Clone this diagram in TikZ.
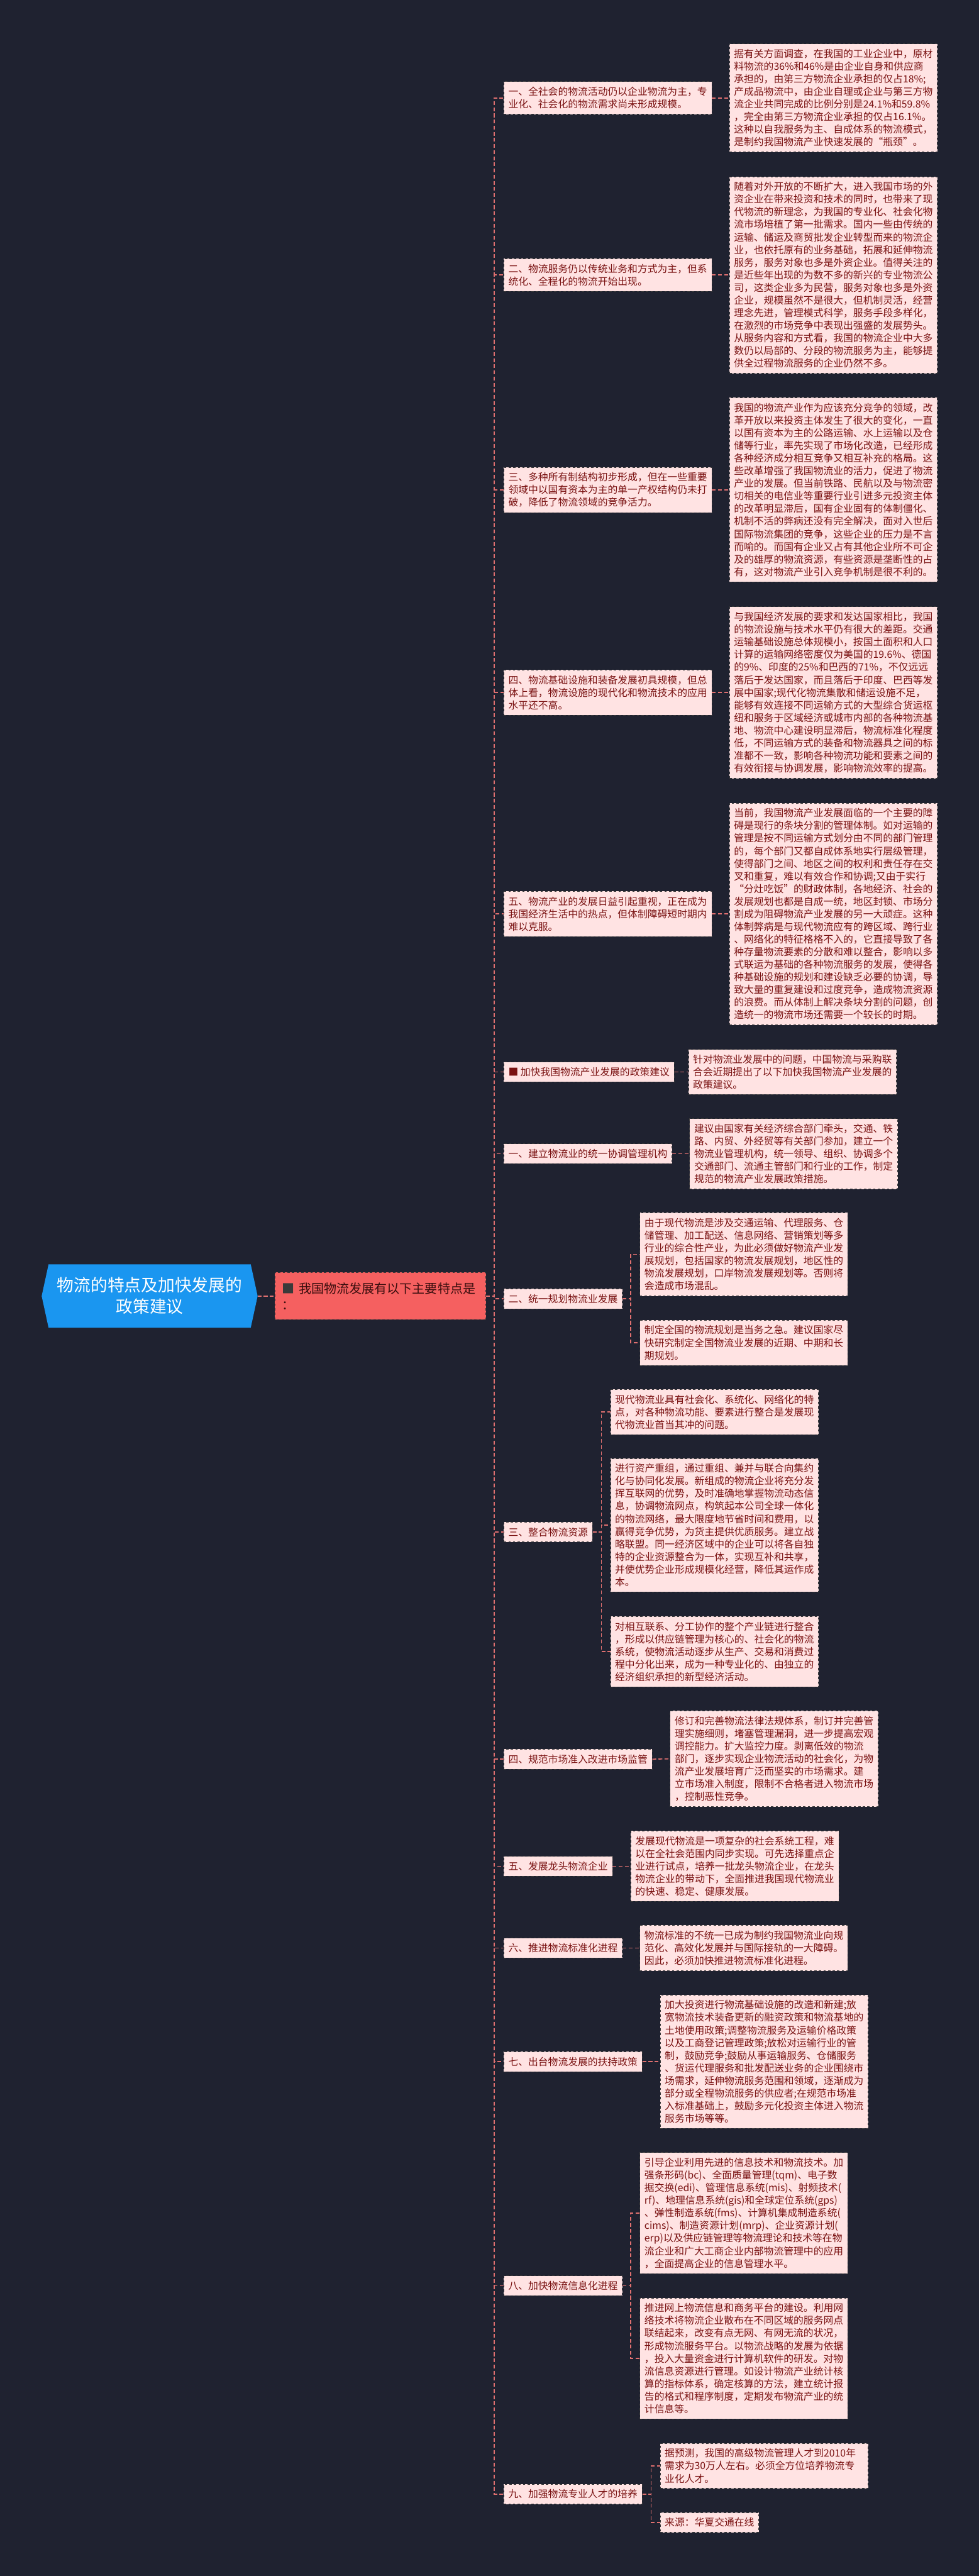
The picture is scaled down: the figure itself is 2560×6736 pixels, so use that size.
\documentclass[tikz,border=0pt]{standalone}
\usepackage{fontspec}
\newfontfamily\cjk{Noto Sans CJK SC}
\usetikzlibrary{backgrounds}
\definecolor{bg}{HTML}{1F2230}
\definecolor{boxfill}{HTML}{FFE3E3}
\definecolor{boxline}{HTML}{3A3A3A}
\definecolor{txt}{HTML}{7A1212}
\definecolor{connc}{HTML}{E07070}
\definecolor{rootblue}{HTML}{1A96F0}
\definecolor{mainred}{HTML}{F56060}
\definecolor{maintxt}{HTML}{3A0E0E}
\tikzset{
  box/.style={draw=boxline, dashed, line width=0.6pt, fill=boxfill, text=txt,
    font=\cjk\fontsize{13pt}{16.5pt}\selectfont, align=left, anchor=west,
    inner xsep=6pt, inner ysep=7pt},
  wide/.style={box, text width=260pt},
  conn/.style={draw=connc, line width=1.4pt, dash pattern=on 5pt off 3pt},
}
\begin{document}
\begin{tikzpicture}[x=0.5pt,y=-0.5pt]
\useasboundingbox (0,0) rectangle (2560,6736);
\coordinate (sp) at (1293,0);
\coordinate (b2) at (1650,0);
\coordinate (b3) at (1573,0);
\coordinate (b8) at (1650,0);
\coordinate (b9) at (1703,0);

% root and main
\node[text=white, font=\cjk\fontsize{22pt}{28pt}\selectfont, align=center, anchor=west,
  minimum width=264pt, minimum height=82.5pt, inner sep=0pt] (root) at (127,3389) {物流的特点及加快发展的\\政策建议};
\begin{pgfonlayer}{background}
\fill[bg] (0,0) rectangle (2560,6736);
\fill[rootblue] ([xshift=-9pt]root.west) -- (root.north west) -- (root.north east)
  -- ([xshift=9pt]root.east) -- (root.south east) -- (root.south west) -- cycle;
\end{pgfonlayer}
\node[fill=mainred, draw=boxline, dashed, line width=0.6pt, text=maintxt,
  font=\cjk\fontsize{16.5pt}{21.5pt}\selectfont, align=left, anchor=west,
  text width=257pt, minimum height=61.5pt, inner xsep=9.5pt] (main) at (718,3389)
  {{\color{boxline}■} 我国物流发展有以下主要特点是\\：};
\draw[conn] ([xshift=9pt]root.east) -- (main.west);

% level 1 : features
\node[wide] (L1) at (1317,256) {一、全社会的物流活动仍以企业物流为主，专\\业化、社会化的物流需求尚未形成规模。};
\node[wide] (R1) at (1907,256) {据有关方面调查，在我国的工业企业中，原材\\料物流的36\%和46\%是由企业自身和供应商\\承担的，由第三方物流企业承担的仅占18\%;\\产成品物流中，由企业自理或企业与第三方物\\流企业共同完成的比例分别是24.1\%和59.8\%\\，完全由第三方物流企业承担的仅占16.1\%。\\这种以自我服务为主、自成体系的物流模式，\\是制约我国物流产业快速发展的“瓶颈”。};

\node[wide] (L2) at (1317,719) {二、物流服务仍以传统业务和方式为主，但系\\统化、全程化的物流开始出现。};
\node[wide] (R2) at (1907,719) {随着对外开放的不断扩大，进入我国市场的外\\资企业在带来投资和技术的同时，也带来了现\\代物流的新理念，为我国的专业化、社会化物\\流市场培植了第一批需求。国内一些由传统的\\运输、储运及商贸批发企业转型而来的物流企\\业，也依托原有的业务基础，拓展和延伸物流\\服务，服务对象也多是外资企业。值得关注的\\是近些年出现的为数不多的新兴的专业物流公\\司，这类企业多为民营，服务对象也多是外资\\企业，规模虽然不是很大，但机制灵活，经营\\理念先进，管理模式科学，服务手段多样化，\\在激烈的市场竞争中表现出强盛的发展势头。\\从服务内容和方式看，我国的物流企业中大多\\数仍以局部的、分段的物流服务为主，能够提\\供全过程物流服务的企业仍然不多。};

\node[wide] (L3) at (1317,1281) {三、多种所有制结构初步形成，但在一些重要\\领域中以国有资本为主的单一产权结构仍未打\\破，降低了物流领域的竞争活力。};
\node[wide] (R3) at (1907,1281) {我国的物流产业作为应该充分竞争的领域，改\\革开放以来投资主体发生了很大的变化，一直\\以国有资本为主的公路运输、水上运输以及仓\\储等行业，率先实现了市场化改造，已经形成\\各种经济成分相互竞争又相互补充的格局。这\\些改革增强了我国物流业的活力，促进了物流\\产业的发展。但当前铁路、民航以及与物流密\\切相关的电信业等重要行业引进多元投资主体\\的改革明显滞后，国有企业固有的体制僵化、\\机制不活的弊病还没有完全解决，面对入世后\\国际物流集团的竞争，这些企业的压力是不言\\而喻的。而国有企业又占有其他企业所不可企\\及的雄厚的物流资源，有些资源是垄断性的占\\有，这对物流产业引入竞争机制是很不利的。};

\node[wide] (L4) at (1317,1811) {四、物流基础设施和装备发展初具规模，但总\\体上看，物流设施的现代化和物流技术的应用\\水平还不高。};
\node[wide] (R4) at (1907,1811) {与我国经济发展的要求和发达国家相比，我国\\的物流设施与技术水平仍有很大的差距。交通\\运输基础设施总体规模小，按国土面积和人口\\计算的运输网络密度仅为美国的19.6\%、德国\\的9\%、印度的25\%和巴西的71\%，不仅远远\\落后于发达国家，而且落后于印度、巴西等发\\展中国家;现代化物流集散和储运设施不足，\\能够有效连接不同运输方式的大型综合货运枢\\纽和服务于区域经济或城市内部的各种物流基\\地、物流中心建设明显滞后，物流标准化程度\\低，不同运输方式的装备和物流器具之间的标\\准都不一致，影响各种物流功能和要素之间的\\有效衔接与协调发展，影响物流效率的提高。};

\node[wide] (L5) at (1317,2390) {五、物流产业的发展日益引起重视，正在成为\\我国经济生活中的热点，但体制障碍短时期内\\难以克服。};
\node[wide] (R5) at (1907,2390) {当前，我国物流产业发展面临的一个主要的障\\碍是现行的条块分割的管理体制。如对运输的\\管理是按不同运输方式划分由不同的部门管理\\的，每个部门又都自成体系地实行层级管理，\\使得部门之间、地区之间的权利和责任存在交\\叉和重复，难以有效合作和协调;又由于实行\\“分灶吃饭”的财政体制，各地经济、社会的\\发展规划也都是自成一统，地区封锁、市场分\\割成为阻碍物流产业发展的另一大顽症。这种\\体制弊病是与现代物流应有的跨区域、跨行业\\、网络化的特征格格不入的，它直接导致了各\\种存量物流要素的分散和难以整合，影响以多\\式联运为基础的各种物流服务的发展，使得各\\种基础设施的规划和建设缺乏必要的协调，导\\致大量的重复建设和过度竞争，造成物流资源\\的浪费。而从体制上解决条块分割的问题，创\\造统一的物流市场还需要一个较长的时期。};

% policy part
\node[box] (P) at (1317,2803) {■ 加快我国物流产业发展的政策建议};
\node[wide] (Pc) at (1800,2803) {针对物流业发展中的问题，中国物流与采购联\\合会近期提出了以下加快我国物流产业发展的\\政策建议。};

\node[box] (S1) at (1317,3017) {一、建立物流业的统一协调管理机构};
\node[wide] (S1c) at (1803,3017) {建议由国家有关经济综合部门牵头，交通、铁\\路、内贸、外经贸等有关部门参加，建立一个\\物流业管理机构，统一领导、组织、协调多个\\交通部门、流通主管部门和行业的工作，制定\\规范的物流产业发展政策措施。};

\node[box] (S2) at (1317,3396) {二、统一规划物流业发展};
\node[wide] (S2a) at (1673,3280) {由于现代物流是涉及交通运输、代理服务、仓\\储管理、加工配送、信息网络、营销策划等多\\行业的综合性产业，为此必须做好物流产业发\\展规划，包括国家的物流发展规划，地区性的\\物流发展规划，口岸物流发展规划等。否则将\\会造成市场混乱。};
\node[wide] (S2b) at (1673,3511) {制定全国的物流规划是当务之急。建议国家尽\\快研究制定全国物流业发展的近期、中期和长\\期规划。};

\node[box] (S3) at (1317,4006) {三、整合物流资源};
\node[wide] (S3a) at (1596,3692) {现代物流业具有社会化、系统化、网络化的特\\点，对各种物流功能、要素进行整合是发展现\\代物流业首当其冲的问题。};
\node[wide] (S3b) at (1596,3988) {进行资产重组，通过重组、兼并与联合向集约\\化与协同化发展。新组成的物流企业将充分发\\挥互联网的优势，及时准确地掌握物流动态信\\息，协调物流网点，构筑起本公司全球一体化\\的物流网络，最大限度地节省时间和费用，以\\赢得竞争优势，为货主提供优质服务。建立战\\略联盟。同一经济区域中的企业可以将各自独\\特的企业资源整合为一体，实现互补和共享，\\并使优势企业形成规模化经营，降低其运作成\\本。};
\node[wide] (S3c) at (1596,4319) {对相互联系、分工协作的整个产业链进行整合\\，形成以供应链管理为核心的、社会化的物流\\系统，使物流活动逐步从生产、交易和消费过\\程中分化出来，成为一种专业化的、由独立的\\经济组织承担的新型经济活动。};

\node[box] (S4) at (1317,4600) {四、规范市场准入改进市场监管};
\node[wide] (S4c) at (1752,4599) {修订和完善物流法律法规体系，制订并完善管\\理实施细则，堵塞管理漏洞，进一步提高宏观\\调控能力。扩大监控力度。剥离低效的物流\\部门，逐步实现企业物流活动的社会化，为物\\流产业发展培育广泛而坚实的市场需求。建\\立市场准入制度，限制不合格者进入物流市场\\，控制恶性竞争。};

\node[box] (S5) at (1317,4880) {五、发展龙头物流企业};
\node[wide] (S5c) at (1649,4880) {发展现代物流是一项复杂的社会系统工程，难\\以在全社会范围内同步实现。可先选择重点企\\业进行试点，培养一批龙头物流企业，在龙头\\物流企业的带动下，全面推进我国现代物流业\\的快速、稳定、健康发展。};

\node[box] (S6) at (1317,5094) {六、推进物流标准化进程};
\node[wide] (S6c) at (1673,5094) {物流标准的不统一已成为制约我国物流业向规\\范化、高效化发展并与国际接轨的一大障碍。\\因此，必须加快推进物流标准化进程。};

\node[box] (S7) at (1317,5391) {七、出台物流发展的扶持政策};
\node[wide] (S7c) at (1726,5391) {加大投资进行物流基础设施的改造和新建;放\\宽物流技术装备更新的融资政策和物流基地的\\土地使用政策;调整物流服务及运输价格政策\\以及工商登记管理政策;放松对运输行业的管\\制，鼓励竞争;鼓励从事运输服务、仓储服务\\、货运代理服务和批发配送业务的企业围绕市\\场需求，延伸物流服务范围和领域，逐渐成为\\部分或全程物流服务的供应者;在规范市场准\\入标准基础上，鼓励多元化投资主体进入物流\\服务市场等等。};

\node[box] (S8) at (1317,5977) {八、加快物流信息化进程};
\node[wide] (S8a) at (1673,5787) {引导企业利用先进的信息技术和物流技术。加\\强条形码(bc)、全面质量管理(tqm)、电子数\\据交换(edi)、管理信息系统(mis)、射频技术(\\rf)、地理信息系统(gis)和全球定位系统(gps)\\、弹性制造系统(fms)、计算机集成制造系统(\\cims)、制造资源计划(mrp)、企业资源计划(\\erp)以及供应链管理等物流理论和技术等在物\\流企业和广大工商企业内部物流管理中的应用\\，全面提高企业的信息管理水平。};
\node[wide] (S8b) at (1673,6167) {推进网上物流信息和商务平台的建设。利用网\\络技术将物流企业散布在不同区域的服务网点\\联结起来，改变有点无网、有网无流的状况，\\形成物流服务平台。以物流战略的发展为依据\\，投入大量资金进行计算机软件的研发。对物\\流信息资源进行管理。如设计物流产业统计核\\算的指标体系，确定核算的方法，建立统计报\\告的格式和程序制度，定期发布物流产业的统\\计信息等。};

\node[box] (S9) at (1317,6522) {九、加强物流专业人才的培养};
\node[wide] (S9a) at (1726,6448) {据预测，我国的高级物流管理人才到2010年\\需求为30万人左右。必须全方位培养物流专\\业化人才。};
\node[box] (S9b) at (1726,6596) {来源：华夏交通在线};

% connectors from main
\foreach \n in {L1,L2,L3,L4,L5,P,S1,S2,S3,S4,S5,S6,S7,S8,S9}
  \draw[conn] (main.east) -- (main.east -| sp) |- (\n.west);

% direct children
\foreach \a/\b in {L1/R1,L2/R2,L3/R3,L4/R4,L5/R5,P/Pc,S1/S1c,S4/S4c,S5/S5c,S6/S6c,S7/S7c}
  \draw[conn] (\a.east) -- (\b.west);

% bracketed children
\foreach \b in {S2a,S2b} \draw[conn] (S2.east) -- (S2.east -| b2) |- (\b.west);
\foreach \b in {S3a,S3b,S3c} \draw[conn] (S3.east) -- (S3.east -| b3) |- (\b.west);
\foreach \b in {S8a,S8b} \draw[conn] (S8.east) -- (S8.east -| b8) |- (\b.west);
\foreach \b in {S9a,S9b} \draw[conn] (S9.east) -- (S9.east -| b9) |- (\b.west);
\end{tikzpicture}
\end{document}
